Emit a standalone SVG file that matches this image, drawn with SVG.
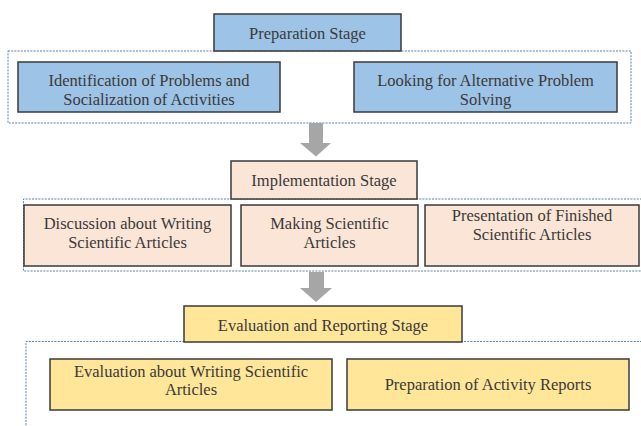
<svg xmlns="http://www.w3.org/2000/svg" width="641" height="426" viewBox="0 0 641 426">
<style>
.box{stroke:#3a3a3a;stroke-width:1.5}
.blue{fill:#9dc3e6}
.peach{fill:#fbe5d6}
.yellow{fill:#ffe699}
.grp{fill:none;stroke:#5b80a8;stroke-width:1;stroke-dasharray:2 1.2}
text{font-family:"Liberation Serif","DejaVu Serif",serif;font-size:16.5px;fill:#3a3a3a;text-anchor:middle}
.arrow{fill:#a6a6a6}
</style>
<rect width="641" height="426" fill="#ffffff"/>
<g id="groups">
<rect class="grp" x="8" y="51" width="623" height="72"/>
<path class="grp" d="M642 199 H23.5 V271 H642"/>
<path class="grp" d="M642 341.5 H26 V427"/>
</g>
<g id="connectors">
<polygon class="arrow" points="309,123 323,123 323,143 331,143 316,156.5 300,143 309,143"/>
<polygon class="arrow" points="309,272 324,272 324,288 332,288 316,302 300,288 309,288"/>
</g>
<g id="preparation-stage">
<rect class="box blue" x="214" y="14" width="187" height="37"/>
<text x="307.5" y="38.5">Preparation Stage</text>
</g>
<g id="identification">
<rect class="box blue" x="18" y="62" width="262" height="50"/>
<text x="149" y="85.5">Identification of Problems and</text>
<text x="149" y="104.5">Socialization of Activities</text>
</g>
<g id="looking">
<rect class="box blue" x="354" y="62" width="263" height="50"/>
<text x="485.5" y="85.5">Looking for Alternative Problem</text>
<text x="485.5" y="104.5">Solving</text>
</g>
<g id="implementation-stage">
<rect class="box peach" x="231" y="161" width="186" height="38"/>
<text x="324" y="186">Implementation Stage</text>
</g>
<g id="discussion">
<rect class="box peach" x="24" y="205" width="207" height="61"/>
<text x="127.5" y="228.5">Discussion about Writing</text>
<text x="127.5" y="247.5">Scientific Articles</text>
</g>
<g id="making">
<rect class="box peach" x="241" y="205" width="177" height="61"/>
<text x="329.5" y="228.5">Making Scientific</text>
<text x="329.5" y="247.5">Articles</text>
</g>
<g id="presentation">
<rect class="box peach" x="425" y="205" width="214" height="61"/>
<text x="532" y="221">Presentation of Finished</text>
<text x="532" y="240">Scientific Articles</text>
</g>
<g id="evaluation-stage">
<rect class="box yellow" x="184" y="306" width="278" height="36"/>
<text x="323" y="330.5">Evaluation and Reporting Stage</text>
</g>
<g id="evaluation-writing">
<rect class="box yellow" x="50" y="359" width="282" height="51"/>
<text x="191" y="376.5">Evaluation about Writing Scientific</text>
<text x="191" y="395">Articles</text>
</g>
<g id="activity-reports">
<rect class="box yellow" x="347" y="359" width="282" height="51"/>
<text x="488" y="389.5">Preparation of Activity Reports</text>
</g>
</svg>
